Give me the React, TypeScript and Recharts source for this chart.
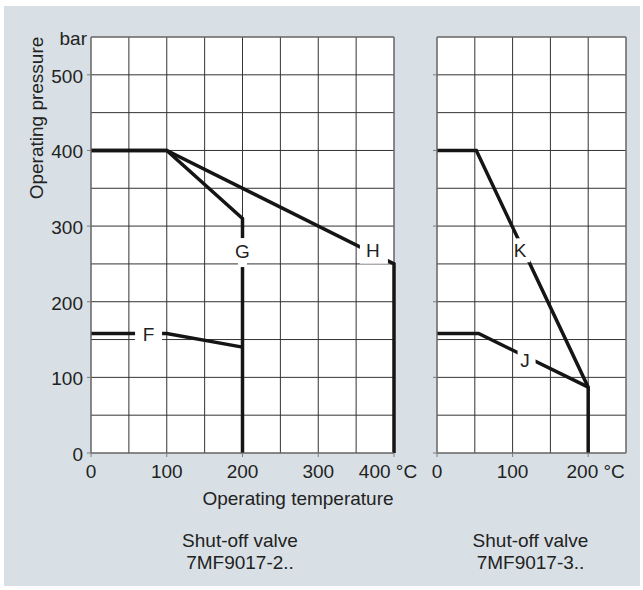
import { LineChart, Line, XAxis, YAxis, CartesianGrid, ReferenceDot, ReferenceLine } from "recharts";

type Pt = { t: number; p: number };

// left diagram: shut-off valve 7MF9017-2..
const curveF: Pt[] = [{ t: 0, p: 158 }, { t: 100, p: 158 }, { t: 200, p: 140 }];
const curveG: Pt[] = [{ t: 0, p: 400 }, { t: 100, p: 400 }, { t: 200, p: 310 }, { t: 200, p: 0 }];
const curveH: Pt[] = [{ t: 0, p: 400 }, { t: 100, p: 400 }, { t: 400, p: 250 }, { t: 400, p: 0 }];

// right diagram: shut-off valve 7MF9017-3..
const curveK: Pt[] = [{ t: 0, p: 400 }, { t: 52, p: 400 }, { t: 200, p: 87 }, { t: 200, p: 0 }];
const curveJ: Pt[] = [{ t: 0, p: 158 }, { t: 55, p: 158 }, { t: 200, p: 87 }];

const pressureTicks = [0, 50, 100, 150, 200, 250, 300, 350, 400, 450, 500, 550];
const pressureLabels: Record<number, string> = {
  0: "0", 100: "100", 200: "200", 300: "300", 400: "400", 500: "500", 550: "bar",
};
const leftTempTicks = [0, 50, 100, 150, 200, 250, 300, 350, 400];
const leftTempLabels: Record<number, string> = { 0: "0", 100: "100", 200: "200", 300: "300", 400: "400 °C" };
const rightTempTicks = [0, 50, 100, 150, 200, 250];
const rightTempLabels: Record<number, string> = { 0: "0", 100: "100", 200: "200 °C" };

// curve letters, placed where the thick line is broken
const leftCurveNames = [
  { name: "F", t: 76, p: 158.5 },
  { name: "G", t: 200, p: 265 },
  { name: "H", t: 373.5, p: 263.5 },
];
const rightCurveNames = [
  { name: "K", t: 114, p: 268 },
  { name: "J", t: 118.5, p: 126 },
];

const FONT = '"Liberation Sans", Arial, Helvetica, sans-serif';
const INK = "#222";
const LINE = "#151515";
const GRID = "#333";
const FRAME = "#7d7d7d";
const BG = "#d8e0e5";
const FS = 19;

// knockout box size and text offset for each letter
const knock: Record<string, { w: number; h: number; dx: number; dy: number }> = {
  F: { w: 27, h: 16, dx: 0, dy: 1.5 },
  G: { w: 9, h: 29, dx: 0, dy: -1.5 },
  H: { w: 28, h: 20, dx: -1, dy: -3 },
  K: { w: 14, h: 24, dx: -3, dy: 0.5 },
  J: { w: 18, h: 14, dx: -1.5, dy: 2.5 },
};

const PressureTick = (props: any) => {
  const { x, y, payload, showLabels } = props;
  const v = payload.value;
  const major = v % 100 === 0;
  const label = showLabels ? pressureLabels[v] : undefined;
  return (
    <g>
      {major && <line x1={x - 4} x2={x} y1={y} y2={y} stroke={FRAME} />}
      {label && (
        <text
          x={v === 550 ? x - 4 : x - 8}
          y={y + 1.5}
          textAnchor="end"
          dominantBaseline="central"
          fontSize={FS}
          fontFamily={FONT}
          fill={INK}
        >
          {label}
        </text>
      )}
    </g>
  );
};

const TempTick = (props: any) => {
  const { x, y, payload, labels, lastDx } = props;
  const v = payload.value;
  const major = v % 100 === 0;
  const label = labels[v];
  const isUnit = label && label.includes("°C");
  return (
    <g>
      {major && <line x1={x} x2={x} y1={y} y2={y + 4} stroke={FRAME} />}
      {label && (
        <text
          x={isUnit ? x + lastDx : x}
          y={y + 25}
          textAnchor="middle"
          fontSize={FS}
          fontFamily={FONT}
          fill={INK}
        >
          {label}
        </text>
      )}
    </g>
  );
};

const CurveName = (props: any) => {
  const { cx, cy, name } = props;
  const k = knock[name];
  return (
    <g>
      <rect x={cx - k.w / 2} y={cy - k.h / 2} width={k.w} height={k.h} fill="#fff" />
      <text
        x={cx + k.dx}
        y={cy + k.dy}
        textAnchor="middle"
        dominantBaseline="central"
        fontSize={FS}
        fontFamily={FONT}
        fill={INK}
      >
        {name}
      </text>
    </g>
  );
};

const lineProps = {
  type: "linear" as const,
  dataKey: "p",
  stroke: LINE,
  strokeWidth: 3.5,
  dot: false,
  activeDot: false,
  isAnimationActive: false,
};

export default function App() {
  return (
    <div
      style={{
        position: "absolute",
        left: 0,
        top: 0,
        width: 643,
        height: 590,
        background: "#fff",
        overflow: "hidden",
        fontFamily: FONT,
      }}
    >
      <div style={{ position: "absolute", left: 4, top: 6, width: 636, height: 580, background: BG }} />

      <div style={{ position: "absolute", left: 0, top: 0 }}>
        <LineChart width={420} height={590} margin={{ top: 37, right: 26, bottom: 107, left: 0 }}>
          <CartesianGrid stroke={GRID} fill="#fff" fillOpacity={1} />
          <XAxis
            type="number"
            dataKey="t"
            domain={[0, 400]}
            ticks={leftTempTicks}
            interval={0}
            height={30}
            tickSize={0}
            tickMargin={0}
            tickLine={false}
            axisLine={{ stroke: FRAME }}
            tick={(p: any) => <TempTick {...p} labels={leftTempLabels} lastDx={-6} />}
          />
          <YAxis
            type="number"
            domain={[0, 550]}
            ticks={pressureTicks}
            interval={0}
            width={91}
            tickSize={0}
            tickMargin={0}
            tickLine={false}
            axisLine={{ stroke: FRAME }}
            tick={(p: any) => <PressureTick {...p} showLabels />}
          />
          <ReferenceLine y={550} stroke={FRAME} />
          <ReferenceLine x={400} stroke={FRAME} />
          <Line {...lineProps} data={curveF} />
          <Line {...lineProps} data={curveG} />
          <Line {...lineProps} data={curveH} />
          {leftCurveNames.map((c) => (
            <ReferenceDot
              key={c.name}
              x={c.t}
              y={c.p}
              r={0}
              zIndex={1000}
              shape={(p: any) => <CurveName {...p} name={c.name} />}
            />
          ))}
        </LineChart>
      </div>

      <div style={{ position: "absolute", left: 420, top: 0 }}>
        <LineChart width={223} height={590} margin={{ top: 37, right: 17, bottom: 107, left: 0 }}>
          <CartesianGrid stroke={GRID} fill="#fff" fillOpacity={1} />
          <XAxis
            type="number"
            dataKey="t"
            domain={[0, 250]}
            ticks={rightTempTicks}
            interval={0}
            height={30}
            tickSize={0}
            tickMargin={0}
            tickLine={false}
            axisLine={{ stroke: FRAME }}
            tick={(p: any) => <TempTick {...p} labels={rightTempLabels} lastDx={7.5} />}
          />
          <YAxis
            type="number"
            domain={[0, 550]}
            ticks={pressureTicks}
            interval={0}
            width={17}
            tickSize={0}
            tickMargin={0}
            tickLine={false}
            axisLine={{ stroke: FRAME }}
            tick={(p: any) => <PressureTick {...p} showLabels={false} />}
          />
          <ReferenceLine y={550} stroke={FRAME} />
          <ReferenceLine x={250} stroke={FRAME} />
          <Line {...lineProps} data={curveK} />
          <Line {...lineProps} data={curveJ} />
          {rightCurveNames.map((c) => (
            <ReferenceDot
              key={c.name}
              x={c.t}
              y={c.p}
              r={0}
              zIndex={1000}
              shape={(p: any) => <CurveName {...p} name={c.name} />}
            />
          ))}
        </LineChart>
      </div>

      <svg
        width={643}
        height={590}
        style={{ position: "absolute", left: 0, top: 0, pointerEvents: "none" }}
        fontFamily={FONT}
        fontSize={FS}
        fill={INK}
      >
        <text transform="translate(43,118) rotate(-90)" textAnchor="middle">
          Operating pressure
        </text>
        <text x={298} y={505} textAnchor="middle">Operating temperature</text>
        <text x={240} y={547} textAnchor="middle">Shut-off valve</text>
        <text x={240} y={569} textAnchor="middle">7MF9017-2..</text>
        <text x={530.5} y={547} textAnchor="middle">Shut-off valve</text>
        <text x={530.5} y={569} textAnchor="middle">7MF9017-3..</text>
      </svg>
    </div>
  );
}
